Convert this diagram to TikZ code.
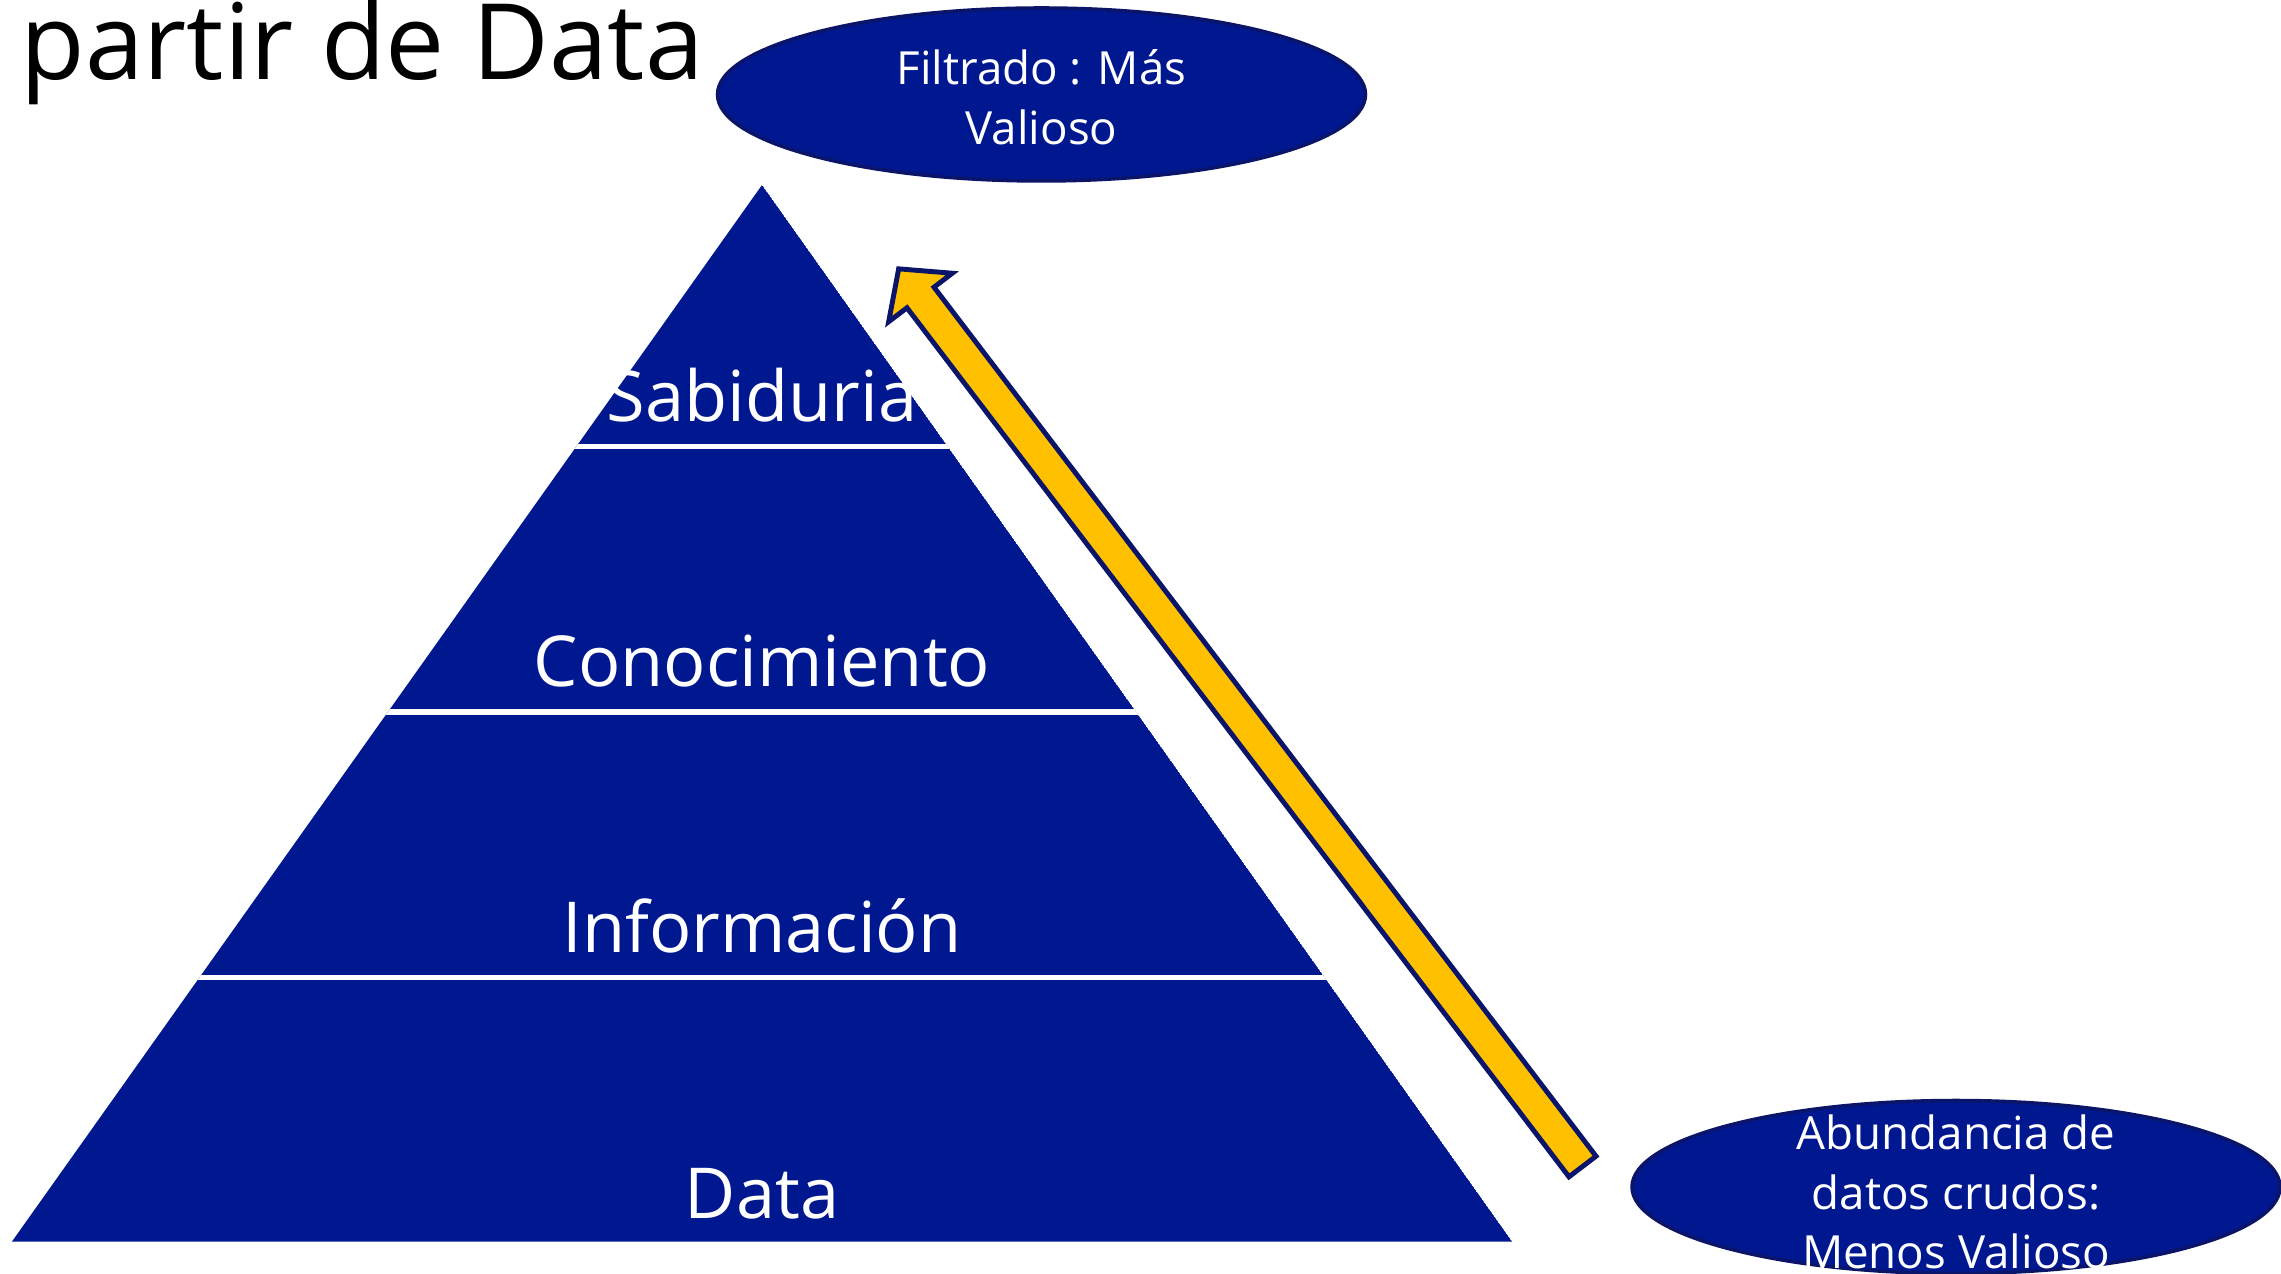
\documentclass[tikz,border=0pt]{standalone}
\usepackage{fontspec}
\setmainfont{Open Sans}
\usepackage{tikz}
\usetikzlibrary{shapes.geometric}
\definecolor{pyrblue}{RGB}{0,24,143}
\definecolor{edgeblue}{RGB}{10,20,105}
\definecolor{arrowgold}{RGB}{255,192,0}

\begin{document}
\begin{tikzpicture}[font=\fontsize{20}{24}\selectfont,
  layer/.style={text=white,anchor=base,inner sep=0pt},
  gap/.style={draw=white,line width=1.6pt},
  oval/.style={shape=ellipse,fill=pyrblue,draw=edgeblue,line width=1pt,minimum width=6.48cm,minimum height=1.73cm,inner sep=0pt},
  ovaltext/.style={text=white,align=center,inner sep=0pt,font=\fontsize{13}{17}\selectfont},
  uparrow/.style={fill=arrowgold,draw=edgeblue,line width=1.4pt,line join=miter}]
\useasboundingbox (0,0) rectangle (22.81,12.73);
\clip (0,0) rectangle (22.81,12.73);
\node(title)[anchor=base west,inner sep=0pt,font=\fontsize{30}{36}\selectfont] at (0.2,11.93){partir de Data};
% pyramid
\coordinate(apex) at (7.62,10.88);
\coordinate(bl) at (0.12,0.315);
\coordinate(br) at (15.12,0.315);
\begin{scope}
\clip (apex)--(bl)--(br)--cycle;
\fill[pyrblue] (apex)--(bl)--(br)--cycle;
\foreach \y in {8.265,5.61,2.955} \draw[gap] (0,\y)--(16,\y);
\end{scope}
\node(sab)[layer] at (7.62,8.51){Sabiduria};
\node(con)[layer] at (7.62,5.86){Conocimiento};
\node(inf)[layer] at (7.62,3.20){Información};
\node(dat)[layer] at (7.62,0.55){Data};
% arrow
\coordinate(tail) at (15.84,1.045);
\begin{scope}[shift={(tail)},rotate=127.3]
\draw[uparrow] (0.025,-0.17)--(10.95,-0.17)--(10.95,-0.40)--(11.31,0)--(10.95,0.40)--(10.95,0.17)--(0.025,0.17)--cycle;
\end{scope}
% ovals
\node(filt)[oval] at (10.415,11.785){};
\node(filttext)[ovaltext] at (10.415,11.76){Filtrado : Más\\Valioso};
\node(abun)[oval] at (19.56,0.86){};
\node(abuntext)[ovaltext] at (19.56,0.81){Abundancia de\\datos crudos:\\Menos Valioso};
\end{tikzpicture}
\end{document}
